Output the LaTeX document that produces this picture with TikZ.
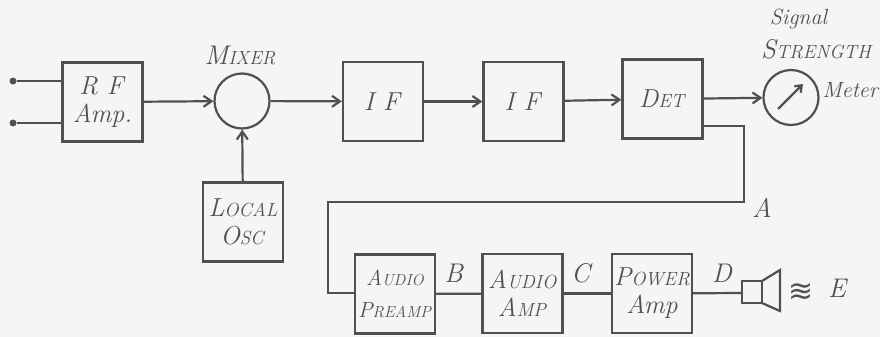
\documentclass[tikz,border=0pt]{standalone}
\usepackage{fontspec}
\newfontfamily\djfont{DejaVu Sans}
\usetikzlibrary{arrows.meta}
\definecolor{ink}{HTML}{505050}
\definecolor{paper}{HTML}{F5F5F5}
\newcommand{\hw}[2]{\textit{#1{\fontsize{19}{22}\selectfont #2}}}
\newcommand{\hws}[2]{\textit{{\fontsize{22}{24}\selectfont #1}{\fontsize{16}{20}\selectfont #2}}}
\tikzset{
  blk/.style={draw=ink, line width=2.2pt, minimum width=80pt, minimum height=79pt, inner sep=0pt, align=center, text=ink, font=\fontsize{26}{30}\selectfont},
  rnd/.style={draw=ink, line width=2.2pt, circle, minimum size=55pt, inner sep=0pt},
  wire/.style={draw=ink, line width=2.2pt},
  arr/.style={wire, -{Straight Barb[length=8pt,width=11pt,line width=2.2pt]}},
  lbl/.style={text=ink, font=\fontsize{27}{30}\selectfont, inner sep=0pt},
  dot/.style={circle, fill=ink, minimum size=7pt, inner sep=0pt}
}
\begin{document}
\begin{tikzpicture}[x=1pt,y=-1pt]
\fill[paper] (0,0) rectangle (880,337);
\useasboundingbox (0,0) rectangle (880,337);
% top row
\node[blk] (rf) at (102.5,102) {\textit{R F}\\[-2pt]\textit{Amp.}};
\node[rnd] (mix) at (242,101) {};
\node[lbl] (mixl) at (240,55) {\hw{M}{IXER}};
\node[blk] (if1) at (383,101.5) {\textit{I F}};
\node[blk] (if2) at (523.5,101.5) {\textit{I F}};
\node[blk] (det) at (662.5,99) {\hw{D}{ET}};
\node[rnd] (met) at (791,97.5) {};
\node[lbl, font=\fontsize{22}{24}\selectfont] (sig) at (799,19) {\textit{Signal}};
\node[lbl] (str) at (817,49) {\hw{S}{TRENGTH}};
\node[lbl, font=\fontsize{22}{24}\selectfont] (metl) at (851,90) {\textit{Meter}};
\node[blk] (lo) at (243,222) {\hw{L}{OCAL}\\[-2pt]\hw{O}{SC}};
% inputs
\node[dot] (in1) at (13,81) {};
\node[dot] (in2) at (13,123) {};
\draw[wire] (in1) -- (in1 -| rf.west);
\draw[wire] (in2) -- (in2 -| rf.west);
% arrows
\draw[arr] (rf) -- (mix);
\draw[arr] (mix) -- (if1);
\draw[arr] (if1) -- (if2);
\draw[arr] (if2) -- (det);
\draw[arr] (det) -- (met);
\draw[arr] (lo) -- (mix);
% meter needle
\draw[wire, -{Straight Barb[length=6pt,width=9pt,line width=2.2pt]}] (778,109) -- (803,84);
% bottom row
\node[blk] (pre) at (395,294) {\hws{A}{UDIO}\\[2pt]\hws{P}{REAMP}};
\node[blk] (aa) at (522.5,293.5) {\hw{A}{UDIO}\\[-2pt]\hw{A}{MP}};
\node[blk] (pa) at (652,293.5) {\hw{P}{OWER}\\[-2pt]\textit{Amp}};
\coordinate (d1) at (702,126);
\coordinate (d2) at (744,126);
\coordinate (d3) at (744,202);
\coordinate (d4) at (328,202);
\coordinate (d5) at (328,293);
\draw[wire] (d1) -- (d2) -- (d3) -- (d4) -- (d5) -- (pre.west |- d5);
\node[lbl] (la) at (762,208) {\textit{A}};
\draw[wire] (pre) -- (aa);
\draw[wire] (aa) -- (pa);
\coordinate (spk) at (742,293);
\draw[wire] (pa) -- (spk);
\node[lbl] (lb) at (454,273) {\textit{B}};
\node[lbl] (lc) at (582,273) {\textit{C}};
\node[lbl] (ld) at (722,273) {\textit{D}};
% speaker
\draw[wire] (742,281) rectangle (762,303);
\draw[wire] (762,281) -- (780,270) -- (780,311) -- (762,303);
\node[lbl, font=\fontsize{30}{32}\djfont] (wav) at (801,292) {≋};
\node[lbl] (le) at (838,288) {\textit{E}};
\end{tikzpicture}
\end{document}
